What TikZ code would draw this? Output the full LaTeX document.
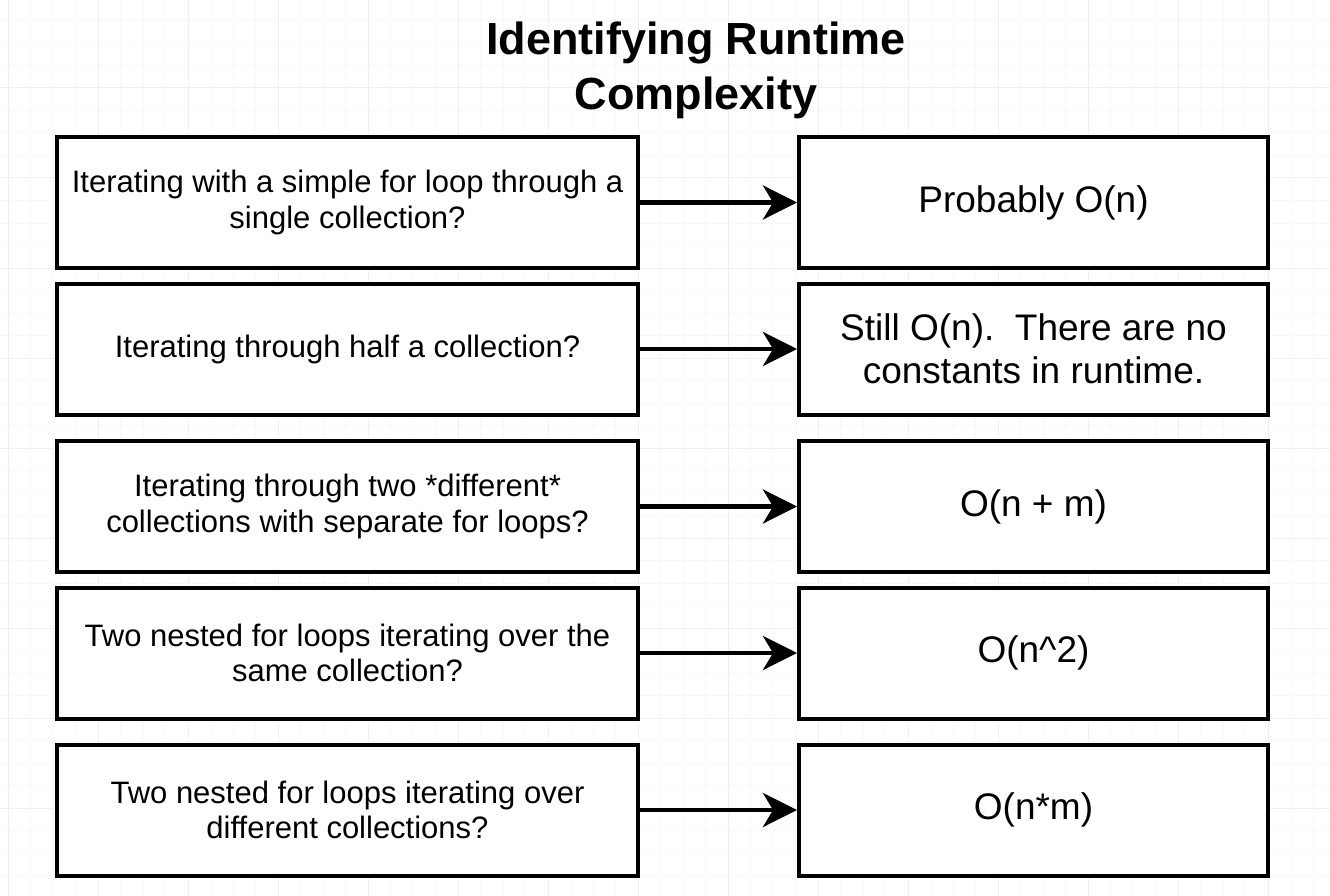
\documentclass[tikz,border=0pt]{standalone}
\usepackage{fontspec}
\setmainfont{Liberation Sans}
\usetikzlibrary{arrows.meta}
\definecolor{gridminor}{HTML}{F8F8F8}
\definecolor{gridmajor}{HTML}{EFEFEF}
\begin{document}
\begin{tikzpicture}[x=1pt,y=-1pt,
  qbox/.style={draw=black, line width=4pt, fill=white, minimum width=581pt, minimum height=131pt,
    align=center, inner sep=0pt, font=\fontsize{31}{35.5}\selectfont},
  abox/.style={draw=black, line width=4pt, fill=white, minimum width=469pt, minimum height=131pt,
    align=center, inner sep=0pt, font=\fontsize{37}{43}\selectfont},
  conn/.style={line width=4.5pt, -{Stealth[length=34pt,width=34pt,inset=10pt]}}]
\useasboundingbox (0,0) rectangle (1330,896);
\fill[white] (0,0) rectangle (1330,896);
% faint grid
\foreach \i in {0,...,59} {
  \draw[gridminor, line width=1pt] ({8+22.5*(\i-1)},0) -- ({8+22.5*(\i-1)},896);
}
\foreach \i in {0,...,41} {
  \draw[gridminor, line width=1pt] (0,{20.5+22.5*(\i-1)}) -- (1330,{20.5+22.5*(\i-1)});
}
\foreach \i in {0,...,15} {
  \draw[gridmajor, line width=1pt] ({8+90*\i},0) -- ({8+90*\i},896);
}
\foreach \i in {0,...,10} {
  \draw[gridmajor, line width=1pt] (0,{-2+90*\i}) -- (1330,{-2+90*\i});
}
% title
\node[align=center, font=\fontsize{45}{55}\selectfont\bfseries] (title) at (696,70) {Identifying Runtime\\Complexity};
% question boxes
\node[qbox] (q1) at (347.5,202.5) {Iterating with a simple for loop through a\\single collection?};
\node[qbox] (q2) at (347.5,349) {Iterating through half a collection?};
\node[qbox] (q3) at (347.5,506.5) {Iterating through two *different*\\collections with separate for loops?};
\node[qbox] (q4) at (347.5,653) {Two nested for loops iterating over the\\same collection?};
\node[qbox] (q5) at (347.5,810) {Two nested for loops iterating over\\different collections?};
% answer boxes
\node[abox] (a1) at (1033.5,202.5) {Probably O(n)};
\node[abox] (a2) at (1033.5,349) {Still O(n).\ \ There are no\\constants in runtime.};
\node[abox] (a3) at (1033.5,506.5) {O(n + m)};
\node[abox] (a4) at (1033.5,653) {O(n\^{}2)};
\node[abox] (a5) at (1033.5,810) {O(n*m)};
% connectors
\foreach \k in {1,...,5} {
  \draw[conn] (q\k.east) -- (a\k.west);
}
\end{tikzpicture}
\end{document}
